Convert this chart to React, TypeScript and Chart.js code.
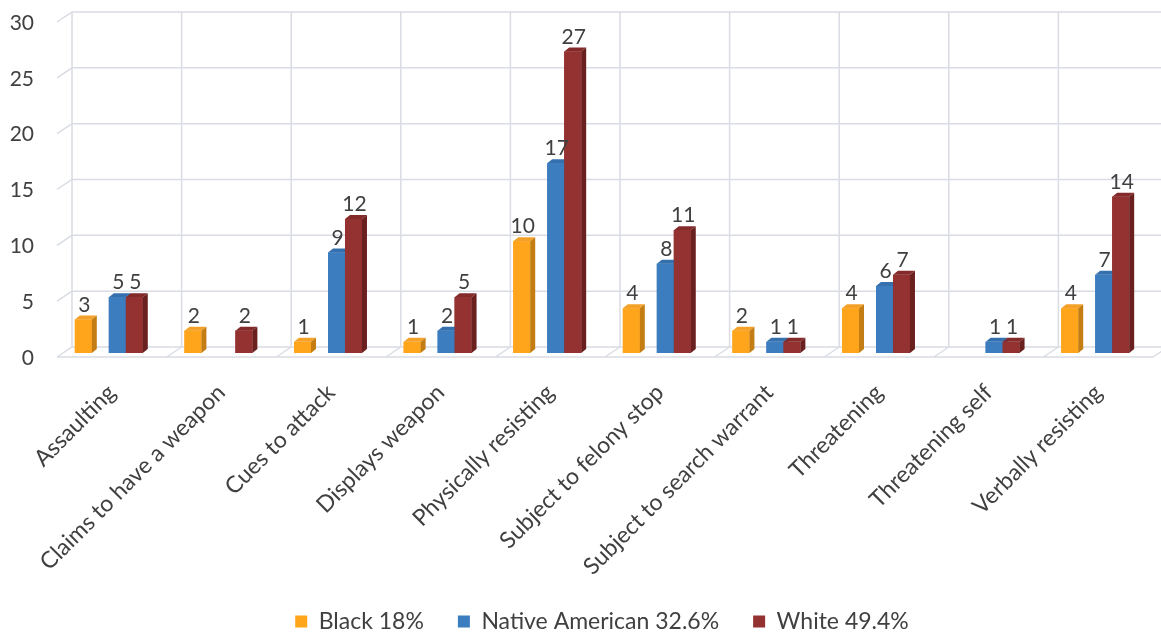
import { useEffect, useRef } from "react";
import { Chart, registerables } from "chart.js";

Chart.register(...registerables);

// Chart data
const categories = [
  "Assaulting",
  "Claims to have a weapon",
  "Cues to attack",
  "Displays weapon",
  "Physically resisting",
  "Subject to felony stop",
  "Subject to search warrant",
  "Threatening",
  "Threatening self",
  "Verbally resisting",
];
const blackValues = [3, 2, 1, 1, 10, 4, 2, 4, null, 4];
const nativeAmericanValues = [5, null, 9, 2, 17, 8, 1, 6, 1, 7];
const whiteValues = [5, 2, 12, 5, 27, 11, 1, 7, 1, 14];
const seriesLabels = ["Black 18%", "Native American 32.6%", "White 49.4%"];
const yTickValues = [0, 5, 10, 15, 20, 25, 30];

const FONT = "Lato, 'Open Sans', sans-serif";
const TEXT = "#404040";
const GRID = "#DADCE4";

// face colours: front, top, side
const palette = {
  black: { front: "#FFA51C", top: "#F4A12A", side: "#C47D12" },
  native: { front: "#3C7DC0", top: "#3470AE", side: "#2B5F94" },
  white: { front: "#943131", top: "#842A2A", side: "#6B2020" },
};

// 3D geometry of the walls and bar faces
const WALL_DEPTH_X = 15;
const WALL_DEPTH_Y = 10;
const FRONT_DX = 3;
const FRONT_DY = 4;
const FACE_X = 5;
const FACE_Y = 4;

const wallsPlugin = {
  id: "walls3d",
  beforeDatasetsDraw(chart: any) {
    const { ctx, chartArea, scales } = chart;
    const y = scales.y;
    const n = categories.length;
    const w = (chartArea.right - chartArea.left) / n;
    const fl = chartArea.left + FRONT_DX;
    const bl = fl + WALL_DEPTH_X;
    const yf = (v: number) => y.getPixelForValue(v) + FRONT_DY;
    const yb = (v: number) => yf(v) - WALL_DEPTH_Y;
    const top = yTickValues[yTickValues.length - 1];
    ctx.save();
    ctx.strokeStyle = GRID;
    ctx.lineWidth = 1.5;
    ctx.beginPath();
    for (const v of yTickValues) {
      ctx.moveTo(fl, yf(v));
      ctx.lineTo(bl, yb(v));
      ctx.lineTo(bl + n * w + 20, yb(v));
    }
    for (let k = 0; k <= n; k++) {
      ctx.moveTo(bl + k * w, yb(0));
      ctx.lineTo(bl + k * w, yb(top));
    }
    ctx.moveTo(fl, yf(0));
    ctx.lineTo(fl + n * w, yf(0));
    for (let k = 1; k <= n; k++) {
      ctx.moveTo(fl + k * w, yf(0));
      ctx.lineTo(bl + k * w, yb(0));
    }
    ctx.stroke();
    ctx.restore();
  },
};

const barsPlugin = {
  id: "bars3d",
  afterDatasetsDraw(chart: any) {
    const { ctx } = chart;
    ctx.save();
    chart.data.datasets.forEach((ds: any, d: number) => {
      const meta = chart.getDatasetMeta(d);
      if (!meta.visible || !ds.faces) return;
      meta.data.forEach((bar: any, i: number) => {
        const v = ds.data[i];
        if (v == null) return;
        const { x, y, base, width } = bar.getProps(["x", "y", "base", "width"], true);
        const l = x - width / 2;
        const r = x + width / 2;
        ctx.fillStyle = ds.faces.front;
        ctx.fillRect(l, y, width, base - y);
        ctx.fillStyle = ds.faces.top;
        ctx.beginPath();
        ctx.moveTo(l, y);
        ctx.lineTo(l + FACE_X, y - FACE_Y);
        ctx.lineTo(r + FACE_X, y - FACE_Y);
        ctx.lineTo(r, y);
        ctx.closePath();
        ctx.fill();
        ctx.fillStyle = ds.faces.side;
        ctx.beginPath();
        ctx.moveTo(r, y);
        ctx.lineTo(r + FACE_X, y - FACE_Y);
        ctx.lineTo(r + FACE_X, base - FACE_Y);
        ctx.lineTo(r, base);
        ctx.closePath();
        ctx.fill();
      });
    });
    // value labels
    ctx.fillStyle = TEXT;
    ctx.font = `21px ${FONT}`;
    ctx.textAlign = "center";
    ctx.textBaseline = "alphabetic";
    chart.data.datasets.forEach((ds: any, d: number) => {
      const meta = chart.getDatasetMeta(d);
      if (!meta.visible || !ds.faces) return;
      meta.data.forEach((bar: any, i: number) => {
        const v = ds.data[i];
        if (v == null) return;
        const { x, y } = bar.getProps(["x", "y"], true);
        ctx.fillText(String(v), x + 1, y - FACE_Y - 4);
      });
    });
    ctx.restore();
  },
};

export default function App() {
  const canvasRef = useRef<HTMLCanvasElement | null>(null);

  useEffect(() => {
    if (!canvasRef.current) return;
    const chart = new Chart(canvasRef.current, {
      type: "bar",
      data: {
        labels: categories,
        datasets: [
          {
            label: seriesLabels[0],
            data: blackValues,
            backgroundColor: palette.black.front,
            faces: palette.black,
          } as any,
          {
            // empty slot between the first and second series
            label: "",
            data: categories.map(() => null),
            backgroundColor: "rgba(0,0,0,0)",
          },
          {
            label: seriesLabels[1],
            data: nativeAmericanValues,
            backgroundColor: palette.native.front,
            faces: palette.native,
          } as any,
          {
            label: seriesLabels[2],
            data: whiteValues,
            backgroundColor: palette.white.front,
            faces: palette.white,
          } as any,
        ],
      },
      options: {
        animation: false,
        responsive: true,
        maintainAspectRatio: false,
        layout: { padding: { top: 18, right: 11, left: 0, bottom: -7 } },
        datasets: {
          bar: { categoryPercentage: 0.62, barPercentage: 1 },
        },
        plugins: {
          legend: {
            position: "bottom",
            fullSize: false,
            labels: {
              filter: (item: any) => item.text !== "",
              boxWidth: 12,
              boxHeight: 12,
              padding: 34,
              color: TEXT,
              font: { family: FONT, size: 23 },
            },
          },
          tooltip: { enabled: false },
        },
        scales: {
          x: {
            grid: { display: false, drawTicks: false },
            border: { display: false },
            ticks: {
              autoSkip: false,
              minRotation: 45,
              maxRotation: 45,
              padding: 26,
              labelOffset: 3,
              color: TEXT,
              font: { family: FONT, size: 23 },
            },
            afterFit: (s: any) => {
              s.height = 223;
            },
          },
          y: {
            min: 0,
            max: 30,
            grid: { display: false, drawTicks: false },
            border: { display: false },
            ticks: {
              stepSize: 5,
              padding: 20,
              labelOffset: 5,
              color: TEXT,
              font: { family: FONT, size: 21 },
            },
            afterFit: (s: any) => {
              s.width = 54;
              s.paddingTop = 0;
              s.paddingBottom = 0;
            },
          },
        },
      },
      plugins: [wallsPlugin, barsPlugin],
    });
    return () => chart.destroy();
  }, []);

  return (
    <div style={{ position: "absolute", left: 0, top: 0, width: 1161, height: 636 }}>
      <canvas ref={canvasRef} />
    </div>
  );
}
